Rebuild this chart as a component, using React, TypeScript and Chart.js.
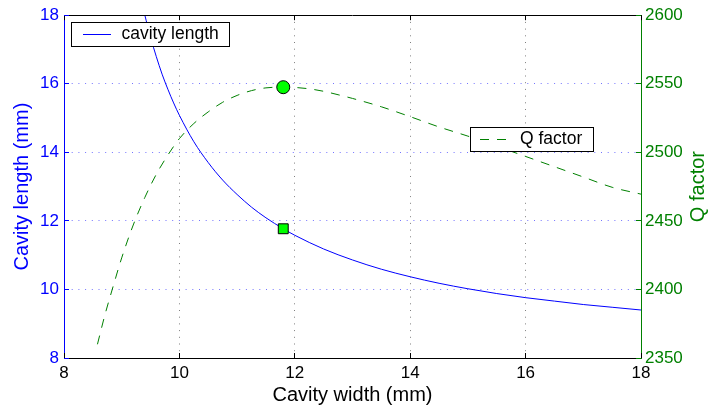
import React, { useEffect, useRef } from 'react';
import { Chart, registerables } from 'chart.js';

Chart.register(...registerables);

// ---- data ----
const widthL = [9.35, 9.4, 9.5, 9.6, 9.7, 9.8, 9.9, 10, 10.25, 10.5, 10.75, 11, 11.25, 11.5, 11.8, 12, 12.5, 13, 13.5, 14, 14.5, 15, 15.5, 16, 16.5, 17, 17.5, 18];
const cavityLength = [18.38, 18.01, 17.36, 16.79, 16.28, 15.84, 15.44, 15.08, 14.31, 13.7, 13.19, 12.77, 12.4, 12.09, 11.77, 11.58, 11.18, 10.86, 10.59, 10.37, 10.18, 10.02, 9.88, 9.76, 9.66, 9.56, 9.48, 9.4];

const widthQ = [8.58, 8.7, 8.85, 9.0, 9.2, 9.4, 9.6, 9.8, 10, 10.25, 10.5, 10.75, 11, 11.25, 11.5, 11.8, 12, 12.25, 12.5, 12.75, 13, 13.5, 14, 14.5, 15, 15.5, 16, 16.5, 17, 17.5, 18];
const qFactor = [2360, 2380, 2402, 2423, 2447, 2467, 2484, 2498, 2510, 2521, 2529.5, 2536.5, 2541.5, 2545, 2547, 2547.5, 2547.3, 2546.3, 2544.5, 2542, 2539.3, 2533.2, 2526, 2518.5, 2511.8, 2504.5, 2497, 2489.5, 2482, 2474.5, 2469.5];

const markerWidth = [11.8];
const markerLength = [11.77];
const markerQ = [2547.5];

const xTicks = [8, 10, 12, 14, 16, 18];
const yTicks = [8, 10, 12, 14, 16, 18];
const qTicks = [2350, 2400, 2450, 2500, 2550, 2600];

const xTitle = 'Cavity width (mm)';
const yTitle = 'Cavity length (mm)';
const qTitle = 'Q factor';
const legendLength = 'cavity length';
const legendQ = 'Q factor';

const FONT = '"Liberation Sans", Arial, Helvetica, sans-serif';
const BLUE = '#0000ff';
const GREEN = '#008000';

const align = (p: number) => Math.round(p - 0.5) + 0.5;

const decor = {
  id: 'decor',
  afterDatasetsDraw(chart: any) {
    const { ctx, chartArea: ca, scales } = chart;
    const xs = scales.x;
    const yl = scales.y;
    const yr = scales.y1;
    ctx.save();
    ctx.lineWidth = 1;
    ctx.setLineDash([]);

    // top border
    ctx.strokeStyle = '#000';
    ctx.beginPath();
    ctx.moveTo(ca.left, align(ca.top));
    ctx.lineTo(ca.right, align(ca.top));
    ctx.stroke();

    // inward tick marks
    const tl = 5;
    ctx.strokeStyle = '#000';
    xTicks.forEach((v) => {
      const px = align(xs.getPixelForValue(v));
      ctx.beginPath();
      ctx.moveTo(px, ca.bottom);
      ctx.lineTo(px, ca.bottom - tl);
      ctx.moveTo(px, ca.top);
      ctx.lineTo(px, ca.top + tl);
      ctx.stroke();
    });
    ctx.strokeStyle = BLUE;
    yTicks.forEach((v) => {
      const py = align(yl.getPixelForValue(v));
      ctx.beginPath();
      ctx.moveTo(ca.left, py);
      ctx.lineTo(ca.left + tl, py);
      ctx.stroke();
    });
    ctx.strokeStyle = GREEN;
    qTicks.forEach((v) => {
      const py = align(yr.getPixelForValue(v));
      ctx.beginPath();
      ctx.moveTo(ca.right, py);
      ctx.lineTo(ca.right - tl, py);
      ctx.stroke();
    });

    // legend 1 (cavity length)
    ctx.font = `17.5px ${FONT}`;
    ctx.textBaseline = 'middle';
    ctx.textAlign = 'left';
    {
      const bx = align(ca.left + 7.5);
      const by = align(ca.top + 7);
      const bw = 158;
      const bh = 24;
      ctx.fillStyle = '#fff';
      ctx.fillRect(bx, by, bw, bh);
      ctx.strokeStyle = '#000';
      ctx.strokeRect(bx, by, bw, bh);
      const cy = by + bh / 2;
      ctx.strokeStyle = BLUE;
      ctx.beginPath();
      ctx.moveTo(bx + 11.5, cy);
      ctx.lineTo(bx + 39.5, cy);
      ctx.stroke();
      ctx.fillStyle = '#000';
      ctx.fillText(legendLength, bx + 50, cy);
    }
    // legend 2 (Q factor)
    {
      const bw = 123;
      const bh = 24;
      const bx = align(ca.right - 47.5 - bw);
      const by = align(ca.top + 112);
      ctx.fillStyle = '#fff';
      ctx.fillRect(bx, by, bw, bh);
      ctx.strokeStyle = '#000';
      ctx.strokeRect(bx, by, bw, bh);
      const cy = by + bh / 2;
      ctx.strokeStyle = GREEN;
      ctx.setLineDash([9, 8]);
      ctx.beginPath();
      ctx.moveTo(bx + 9.5, cy);
      ctx.lineTo(bx + 36.5, cy);
      ctx.stroke();
      ctx.setLineDash([]);
      ctx.fillStyle = '#000';
      ctx.fillText(legendQ, bx + 49.5, cy);
    }

    // right axis title, reading bottom-to-top
    ctx.save();
    ctx.translate(698, (ca.top + ca.bottom) / 2);
    ctx.rotate(-Math.PI / 2);
    ctx.font = `20px ${FONT}`;
    ctx.fillStyle = GREEN;
    ctx.textAlign = 'center';
    ctx.textBaseline = 'middle';
    ctx.fillText(qTitle, 0, 0);
    ctx.restore();

    ctx.restore();
  },
};

const edgeTransparent = (edges: number[], color: string) => (c: any) =>
  c.tick && edges.includes(c.tick.value) ? 'rgba(0,0,0,0)' : color;

const plain = (v: any) => String(v);

export default function App() {
  const ref = useRef<HTMLCanvasElement | null>(null);

  useEffect(() => {
    document.body.style.margin = '0';
    const canvas = ref.current;
    if (!canvas) return;
    const tickFont = { family: FONT, size: 17 };
    const titleFont = { family: FONT, size: 20 };
    const chart = new Chart(canvas, {
      type: 'line',
      data: {
        datasets: [
          {
            label: 'Q max',
            data: markerWidth.map((w, i) => ({ x: w, y: markerQ[i] })),
            yAxisID: 'y1',
            showLine: false,
            pointStyle: 'circle',
            pointRadius: 6.5,
            pointBackgroundColor: '#00ff00',
            pointBorderColor: '#000',
            pointBorderWidth: 1,
            order: 0,
          },
          {
            label: 'length at Q max',
            data: markerWidth.map((w, i) => ({ x: w, y: markerLength[i] })),
            yAxisID: 'y',
            showLine: false,
            pointStyle: 'rect',
            pointRadius: 7,
            pointBackgroundColor: '#00ff00',
            pointBorderColor: '#000',
            pointBorderWidth: 1,
            order: 0,
          },
          {
            label: legendLength,
            data: widthL.map((w, i) => ({ x: w, y: cavityLength[i] })),
            yAxisID: 'y',
            borderColor: BLUE,
            borderWidth: 1,
            pointRadius: 0,
            cubicInterpolationMode: 'monotone',
            fill: false,
            order: 1,
          },
          {
            label: legendQ,
            data: widthQ.map((w, i) => ({ x: w, y: qFactor[i] })),
            yAxisID: 'y1',
            borderColor: GREEN,
            borderWidth: 1,
            borderDash: [9, 8],
            pointRadius: 0,
            cubicInterpolationMode: 'monotone',
            fill: false,
            order: 1,
          },
        ],
      } as any,
      options: {
        animation: false,
        responsive: false,
        devicePixelRatio: 1,
        events: [],
        layout: { padding: { top: 12, left: 0, right: 0, bottom: 0 } },
        plugins: { legend: { display: false }, tooltip: { enabled: false } },
        scales: {
          x: {
            type: 'linear',
            position: 'bottom',
            min: 8,
            max: 18,
            afterBuildTicks: (s: any) => {
              s.ticks = xTicks.map((v) => ({ value: v }));
            },
            afterFit: (s: any) => {
              s.height = 54;
            },
            ticks: { font: tickFont, color: '#000', padding: 5, callback: plain },
            grid: { color: edgeTransparent([8, 18], 'rgba(0,0,0,0.5)'), drawTicks: false, lineWidth: 1 },
            border: { color: '#000', width: 1, dash: [1, 5.7] },
            title: { display: true, text: xTitle, font: titleFont, color: '#000', padding: { top: 0, bottom: 5 } },
          },
          y: {
            type: 'linear',
            position: 'left',
            min: 8,
            max: 18,
            afterBuildTicks: (s: any) => {
              s.ticks = yTicks.map((v) => ({ value: v }));
            },
            afterFit: (s: any) => {
              s.width = 64;
            },
            ticks: { font: tickFont, color: BLUE, padding: 5, callback: plain },
            grid: { color: edgeTransparent([8, 18], 'rgba(0,0,255,0.55)'), drawTicks: false, lineWidth: 1 },
            border: { color: BLUE, width: 1, dash: [1, 5.7] },
            title: { display: true, text: yTitle, font: titleFont, color: BLUE, padding: { top: 10.5, bottom: 0 } },
          },
          y1: {
            type: 'linear',
            position: 'right',
            min: 2350,
            max: 2600,
            afterBuildTicks: (s: any) => {
              s.ticks = qTicks.map((v) => ({ value: v }));
            },
            afterFit: (s: any) => {
              s.width = 70;
            },
            ticks: { font: tickFont, color: GREEN, padding: 4, callback: plain },
            grid: { display: false, drawTicks: false },
            border: { color: GREEN, width: 1 },
          },
        },
      } as any,
      plugins: [decor],
    });
    return () => chart.destroy();
  }, []);

  return (
    <div style={{ position: 'absolute', left: 0, top: 0, width: 711, height: 412, background: '#fff' }}>
      <canvas ref={ref} width={711} height={412} />
    </div>
  );
}
